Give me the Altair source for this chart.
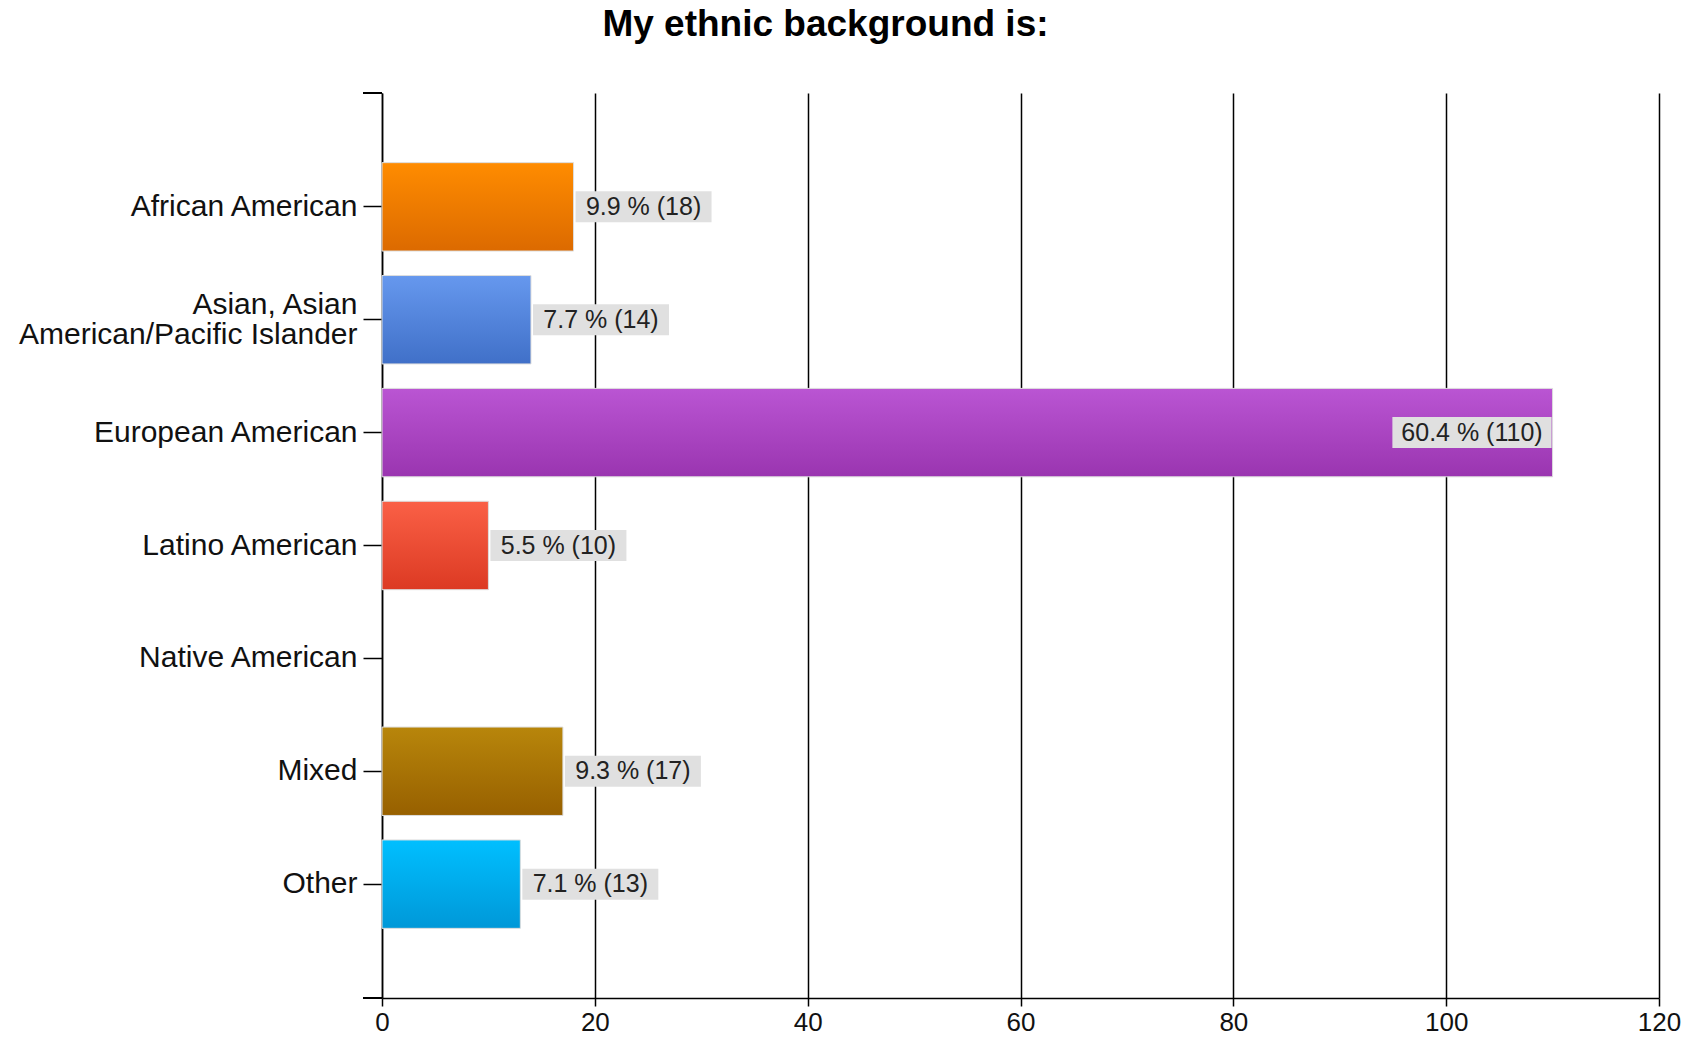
import altair as alt
import pandas as pd

categories = ["African American", "Asian, Asian American/Pacific Islander",
              "European American", "Latino American", "Native American",
              "Mixed", "Other"]
counts = [18, 14, 110, 10, 0, 17, 13]
percents = [9.9, 7.7, 60.4, 5.5, 0.0, 9.3, 7.1]
top_colors = ["#FF8C00", "#6698EE", "#BA55D3", "#FA6046", "#999999", "#B8860B", "#00BFFF"]
bottom_colors = ["#DC6A00", "#4070C8", "#9A35B0", "#DC3A23", "#777777", "#976000", "#0098D8"]
x_ticks = [0, 20, 40, 60, 80, 100, 120]

W, H = 1277, 905
PPU = W / 120.0
SANS = "Liberation Sans, Arial"

df = pd.DataFrame({"category": categories, "count": counts, "pct": percents})

y_scale = alt.Scale(domain=categories, paddingInner=0.217, paddingOuter=0.617)
x_scale = alt.Scale(domain=[0, 120], nice=False, zero=True)

TWO_LINE = "Asian, Asian American/Pacific Islander"
label_expr = (f"datum.value == '{TWO_LINE}' ? "
              "['Asian, Asian', 'American/Pacific Islander'] : datum.value")

x_axis = alt.Axis(values=x_ticks, title=None, grid=True, gridColor="black",
                  gridWidth=1.5, gridOpacity=1, domainColor="black", domainWidth=1.5,
                  tickColor="black", tickSize=8, tickWidth=1.5, labelFont=SANS,
                  labelFontSize=26, labelPadding=3, labelColor="#111111",
                  labelFlush=False, format="d")
y_axis = alt.Axis(title=None, labelFont=SANS, labelFontSize=30, labelColor="#111111",
                  tickColor="black", tickSize=19, tickWidth=1.5, domainColor="black",
                  domainWidth=1.5, labelPadding=6, labelLimit=500, labelExpr=label_expr,
                  labelLineHeight=30,
                  labelOffset={"condition": {"test": f"datum.value == '{TWO_LINE}'",
                                             "value": -15}, "value": 0},
                  grid=False)


def xenc(field):
    return alt.X(field, type="quantitative", scale=x_scale, axis=x_axis)


y_enc = alt.Y("category:N", scale=y_scale, sort=categories, axis=y_axis)

layers = []
for cat, c, top, bot in zip(categories, counts, top_colors, bottom_colors):
    if c <= 0:
        continue
    grad = alt.Gradient(gradient="linear", x1=0, x2=0, y1=0, y2=1,
                        stops=[alt.GradientStop(color=top, offset=0),
                               alt.GradientStop(color=bot, offset=1)])
    layers.append(
        alt.Chart(df).transform_filter(alt.datum.category == cat)
        .mark_bar(fill=grad, stroke="#dddddd", strokeWidth=1)
        .encode(x=xenc("count"), y=y_enc)
    )

labels = (
    alt.Chart(df)
    .transform_filter(alt.datum.count > 0)
    .transform_calculate(label="format(datum.pct, '.1f') + ' % (' + datum.count + ')'")
    .transform_calculate(boxw="length(datum.label) * 11.6 + 20")
    .transform_calculate(inside=f"datum.count * {PPU} + datum.boxw + 2 > {W}")
    .transform_calculate(
        bx1=f"datum.inside ? datum.count - (datum.boxw + 1) / {PPU} : datum.count + 2 / {PPU}",
        bx2=f"datum.inside ? datum.count - 1 / {PPU} : datum.count + (2 + datum.boxw) / {PPU}",
    )
    .transform_calculate(tx="(datum.bx1 + datum.bx2) / 2")
)

boxes = labels.mark_bar(size=31, color="#e0e0e0").encode(
    x=xenc("bx1"), x2="bx2:Q", y=y_enc)
texts = labels.mark_text(font=SANS, fontSize=25, align="center", baseline="middle",
                         color="#222222").encode(x=xenc("tx"), y=y_enc, text="label:N")

edge_top = alt.Chart(df).mark_rule(color="black", strokeWidth=1.5).encode(
    x=alt.value(-19), x2=alt.value(0), y=alt.value(0))
edge_bot = alt.Chart(df).mark_rule(color="black", strokeWidth=1.5).encode(
    x=alt.value(-19), x2=alt.value(0), y=alt.value(H))

chart = alt.layer(*layers, boxes, texts, edge_top, edge_bot).properties(
    width=W, height=H,
    autosize=alt.AutoSizeParams(type="none"),
    padding={"left": 382, "top": 93, "right": 35, "bottom": 42},
    title=alt.TitleParams("My ethnic background is:", font=SANS, fontSize=37,
                          fontWeight="bold", color="black", anchor="middle",
                          dx=-195, offset=19, baseline="alphabetic"),
    background="white",
).configure_view(stroke=None)

chart.save("out.html", embed_options={"renderer": "svg", "actions": False})
